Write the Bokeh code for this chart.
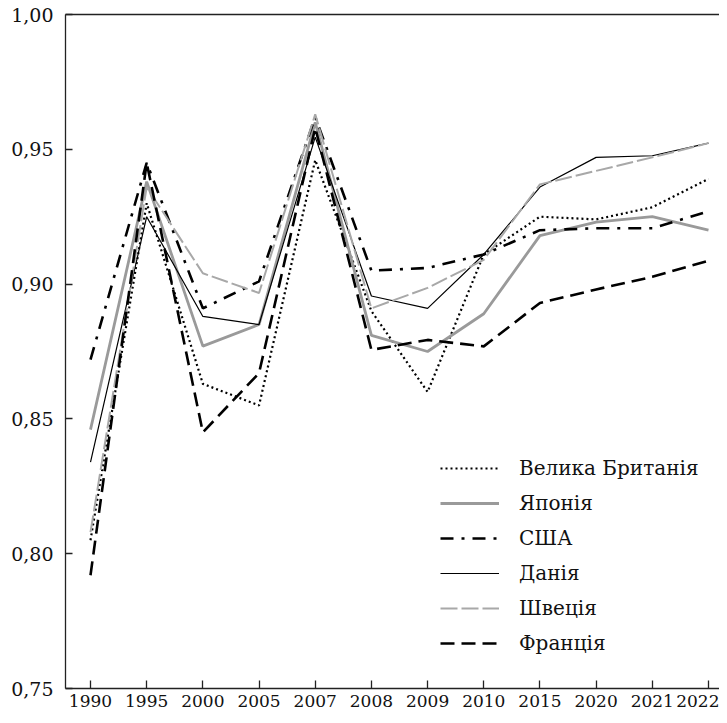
from bokeh.plotting import figure
from bokeh.models import Range1d, FixedTicker, LinearAxis, Legend, LegendItem
from bokeh.embed import file_html
from bokeh.resources import INLINE

years = ["1990", "1995", "2000", "2005", "2007", "2008", "2009", "2010", "2015", "2020", "2021", "2022"]
y_ticks = [0.75, 0.80, 0.85, 0.90, 0.95, 1.00]
y_tick_labels = ["0,75", "0,80", "0,85", "0,90", "0,95", "1,00"]

uk      = [0.805, 0.930, 0.863, 0.855, 0.946, 0.890, 0.860, 0.911, 0.925, 0.924, 0.9285, 0.939]
japan   = [0.846, 0.938, 0.877, 0.885, 0.960, 0.881, 0.875, 0.889, 0.918, 0.923, 0.925, 0.920]
usa     = [0.872, 0.945, 0.891, 0.901, 0.962, 0.905, 0.906, 0.911, 0.920, 0.9207, 0.9207, 0.927]
denmark = [0.834, 0.925, 0.888, 0.885, 0.9545, 0.8956, 0.891, 0.911, 0.936, 0.947, 0.9476, 0.9523]
sweden  = [0.808, 0.936, 0.904, 0.8967, 0.963, 0.891, 0.8986, 0.909, 0.937, 0.942, 0.947, 0.9523]
france  = [0.792, 0.945, 0.845, 0.867, 0.958, 0.8756, 0.8793, 0.8769, 0.893, 0.898, 0.9027, 0.9087]

names = ["Велика Британія", "Японія", "США", "Данія", "Швеція", "Франція"]

FONT = "DejaVu Serif"
x = list(range(len(years)))

p = figure(width=719, height=715, output_backend="svg", toolbar_location=None,
           x_range=Range1d(-0.445, 11.196), y_range=Range1d(0.75, 1.00),
           min_border_left=65, min_border_right=0, min_border_top=14, min_border_bottom=27)
p.outline_line_color = None
p.grid.visible = False
p.background_fill_color = "white"

styles = [
    (uk, dict(line_color="black", line_width=2.2, line_dash="2 3")),
    (japan, dict(line_color="#9a9a9a", line_width=2.8)),
    (usa, dict(line_color="black", line_width=2.6, line_dash="13 8 3 8")),
    (denmark, dict(line_color="black", line_width=1.2)),
    (sweden, dict(line_color="#a8a8a8", line_width=2.0, line_dash="17 4")),
    (france, dict(line_color="black", line_width=2.6, line_dash="14 7")),
]
items = []
for (vals, st), nm in zip(styles, names):
    r = p.line(x, vals, **st)
    items.append(LegendItem(label=nm, renderers=[r]))

for ax in (p.xaxis[0], p.yaxis[0]):
    ax.axis_line_color = "#222222"
    ax.axis_line_width = 1.3
    ax.major_tick_line_color = "#222222"
    ax.major_tick_line_width = 1.3
    ax.major_tick_out = 0
    ax.minor_tick_line_color = None
    ax.major_label_text_font = FONT
    ax.major_label_text_font_size = "17px"
    ax.major_label_text_color = "#111111"

p.xaxis.ticker = FixedTicker(ticks=x)
p.xaxis.major_label_overrides = {i: y for i, y in zip(x, years)}
p.xaxis.major_tick_in = 8
p.xaxis.major_label_standoff = 6

p.yaxis.ticker = FixedTicker(ticks=y_ticks)
p.yaxis.major_label_overrides = {t: l for t, l in zip(y_ticks, y_tick_labels)}
p.yaxis.major_label_text_font_size = "19px"
p.yaxis.major_tick_in = 7
p.yaxis.major_label_standoff = 12

top = LinearAxis(ticker=FixedTicker(ticks=[]), major_label_text_font_size="0px",
                 major_tick_out=0, major_tick_in=0, minor_tick_line_color=None,
                 axis_line_color="#222222", axis_line_width=1.3)
p.add_layout(top, "above")

legend = Legend(items=items, location=(375, 32), border_line_color=None,
                background_fill_alpha=0, label_text_font=FONT,
                label_text_font_size="20px", label_text_color="#111111",
                glyph_width=59, glyph_height=26, label_height=26,
                label_standoff=20, spacing=9, padding=10, margin=0)
p.add_layout(legend)

open("out.html", "w").write(file_html(p, INLINE))
